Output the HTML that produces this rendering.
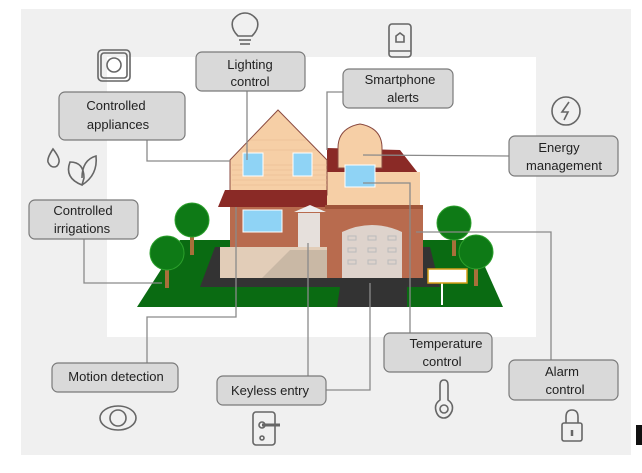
<!DOCTYPE html>
<html><head><meta charset="utf-8"><style>
html,body{margin:0;padding:0;background:#fff;}
svg{display:block;font-family:"Liberation Sans",sans-serif;}
</style></head><body>
<svg width="642" height="473" viewBox="0 0 642 473">
<rect x="21" y="9" width="610" height="446" fill="#f0f0f0"/>
<rect x="107" y="57" width="429" height="280" fill="#fff"/>
<rect x="636" y="425" width="6" height="20" fill="#111"/>

<!-- ground -->
<polygon points="180,240 473,240 503,307 137,307" fill="#0a6b12"/>
<polygon points="215,247 430,247 440,287 407,287 407,307 337,307 340,287 200,287" fill="#333"/>
<!-- house right part roof -->
<polygon points="327,148 400,150 418,173 327,175" fill="#8a2a26"/>
<rect x="327" y="172" width="93" height="36" fill="#f6cfa6"/>
<!-- dome dormer -->
<path d="M338,168 L338,148 Q338,128 360,124 Q382,128 382,148 L382,168 Z" fill="#f6cfa6" stroke="#8a4a40" stroke-width="1"/>
<rect x="345" y="165" width="30" height="22" fill="#8fd3f5" stroke="#fff" stroke-width="1"/>
<!-- left gable -->
<polygon points="230,160 278,110 327,160 327,195 230,195" fill="#f6cfa6" stroke="#8a4a40" stroke-width="1"/>
<g stroke="#e4b890" stroke-width="0.6">
<line x1="232" y1="165" x2="327" y2="165"/><line x1="232" y1="170" x2="327" y2="170"/><line x1="232" y1="175" x2="327" y2="175"/><line x1="232" y1="180" x2="327" y2="180"/><line x1="232" y1="185" x2="327" y2="185"/><line x1="250" y1="140" x2="306" y2="140"/><line x1="245" y1="150" x2="316" y2="150"/>
</g>
<rect x="243" y="153" width="20" height="23" fill="#8fd3f5" stroke="#fff"/>
<rect x="293" y="153" width="19" height="23" fill="#8fd3f5" stroke="#fff"/>
<!-- porch roof -->
<polygon points="225,190 327,190 327,207 218,207" fill="#8a2a26"/>
<!-- lower brick -->
<rect x="230" y="207" width="97" height="40" fill="#b86b4e"/>
<rect x="243" y="210" width="39" height="22" fill="#8fd3f5" stroke="#fff"/>
<rect x="298" y="213" width="22" height="34" fill="#e6e0dc"/>
<polygon points="294,212 310,205 326,212" fill="#eee"/>
<rect x="220" y="247" width="107" height="31" fill="#e2cdb8"/>
<polygon points="262,278 290,250 327,250 327,278" fill="#c9b8a5"/>
<!-- garage -->
<rect x="327" y="207" width="96" height="71" fill="#b86b4e"/>
<rect x="325" y="205" width="98" height="4" fill="#a0553a"/>
<path d="M342,278 L342,232 Q372,218 402,232 L402,278 Z" fill="#ded3cc"/>
<g fill="none" stroke="#bbb" stroke-width="1">
<rect x="348" y="236" width="8" height="4"/><rect x="368" y="236" width="8" height="4"/><rect x="388" y="236" width="8" height="4"/>
<rect x="348" y="248" width="8" height="4"/><rect x="368" y="248" width="8" height="4"/><rect x="388" y="248" width="8" height="4"/>
<rect x="348" y="260" width="8" height="4"/><rect x="368" y="260" width="8" height="4"/><rect x="388" y="260" width="8" height="4"/>
</g>
<!-- trees -->
<g fill="#a8703a"><rect x="190" y="225" width="4" height="30"/><rect x="165" y="258" width="4" height="30"/><rect x="452" y="228" width="4" height="28"/><rect x="474" y="256" width="4" height="30"/></g>
<g fill="#0e7a16" stroke="#2ca02c"><circle cx="192" cy="220" r="17"/><circle cx="167" cy="253" r="17"/><circle cx="454" cy="223" r="17"/><circle cx="476" cy="252" r="17"/></g>
<!-- sign -->
<rect x="441" y="283" width="2" height="22" fill="#fff"/>
<rect x="428" y="269" width="39" height="14" fill="#fff" stroke="#d4a017" stroke-width="1.5"/>

<!-- connectors -->
<g fill="none" stroke="#8a8a8a" stroke-width="1.3">
<polyline points="147,140 147,161 230,161"/>
<polyline points="247,91 247,160"/>
<polyline points="343,92 327,92 327,150"/>
<polyline points="509,156 363,155"/>
<polyline points="84,239 84,283 162,283"/>
<polyline points="147,363 147,317 236,317 236,207"/>
<polyline points="308,376 308,243"/>
<polyline points="326,390 370,390 370,283"/>
<polyline points="410,333 410,183 363,183"/>
<polyline points="551,360 551,232 416,232"/>
</g>

<!-- boxes -->
<g fill="#d9d9d9" stroke="#7a7a7a" stroke-width="1.2">
<rect x="196" y="52" width="109" height="39" rx="6"/>
<rect x="343" y="69" width="110" height="39" rx="6"/>
<rect x="59" y="92" width="126" height="48" rx="6"/>
<rect x="509" y="136" width="109" height="40" rx="6"/>
<rect x="29" y="200" width="109" height="39" rx="6"/>
<rect x="52" y="363" width="126" height="29" rx="6"/>
<rect x="217" y="376" width="109" height="29" rx="6"/>
<rect x="384" y="333" width="108" height="39" rx="6"/>
<rect x="509" y="360" width="109" height="40" rx="6"/>
</g>
<g font-size="13" fill="#222" text-anchor="middle">
<text x="250" y="69">Lighting</text><text x="250" y="86">control</text>
<text x="400" y="84">Smartphone</text><text x="403" y="102">alerts</text>
<text x="116" y="110">Controlled</text><text x="118" y="129">appliances</text>
<text x="559" y="152">Energy</text><text x="564" y="170">management</text>
<text x="83" y="215">Controlled</text><text x="82" y="233">irrigations</text>
<text x="116" y="381">Motion detection</text>
<text x="270" y="395">Keyless entry</text>
<text x="446" y="348">Temperature</text><text x="442" y="366">control</text>
<text x="562" y="376">Alarm</text><text x="565" y="394">control</text>
</g>

<!-- icons -->
<g fill="none" stroke="#666" stroke-width="1.6">
<!-- bulb -->
<path d="M238,36 Q230,28 233,20 Q238,13 245,13 Q252,13 257,20 Q260,28 252,36 Z"/><line x1="239" y1="40" x2="251" y2="40"/><line x1="240" y1="44" x2="250" y2="44"/>
<!-- phone -->
<rect x="389" y="24" width="22" height="33" rx="3"/><line x1="389" y1="51" x2="411" y2="51"/><path d="M396,42 L396,36 L400,33 L404,36 L404,42 Z"/>
<!-- outlet -->
<rect x="98" y="50" width="32" height="31" rx="4"/><rect x="101" y="53" width="26" height="25" rx="3"/><circle cx="114" cy="65" r="7"/>
<!-- energy -->
<circle cx="566" cy="111" r="14"/><path d="M569,102 L562,112 L568,112 L564,120" />
<!-- drop and leaves -->
<path d="M53,149 Q47,158 48,162 Q50,167 54,167 Q58,167 59,162 Q60,158 53,149 Z"/>
<path d="M82,185 Q64,178 70,162 Q84,162 84,178 Z M82,185 Q98,175 96,156 Q82,160 82,178"/>
<!-- eye -->
<ellipse cx="118" cy="418" rx="18" ry="12"/><circle cx="118" cy="418" r="8"/>
<!-- door handle -->
<rect x="253" y="412" width="22" height="33" rx="3"/><circle cx="262" cy="425" r="3"/><line x1="262" y1="425" x2="280" y2="425" stroke-width="3"/><circle cx="262" cy="438" r="2"/>
<!-- thermometer -->
<path d="M440,385 Q440,380 444,380 Q448,380 448,385 L448,400 Q454,404 452,411 Q449,418 444,418 Q438,418 436,411 Q434,404 440,400 Z"/><circle cx="444" cy="409" r="4"/>
<!-- lock -->
<rect x="562" y="423" width="20" height="18" rx="2"/><path d="M566,423 L566,417 Q566,410 572,410 Q578,410 578,417 L578,423"/><line x1="572" y1="430" x2="572" y2="436" stroke-width="2.5"/>
</g>
</svg>
</body></html>
